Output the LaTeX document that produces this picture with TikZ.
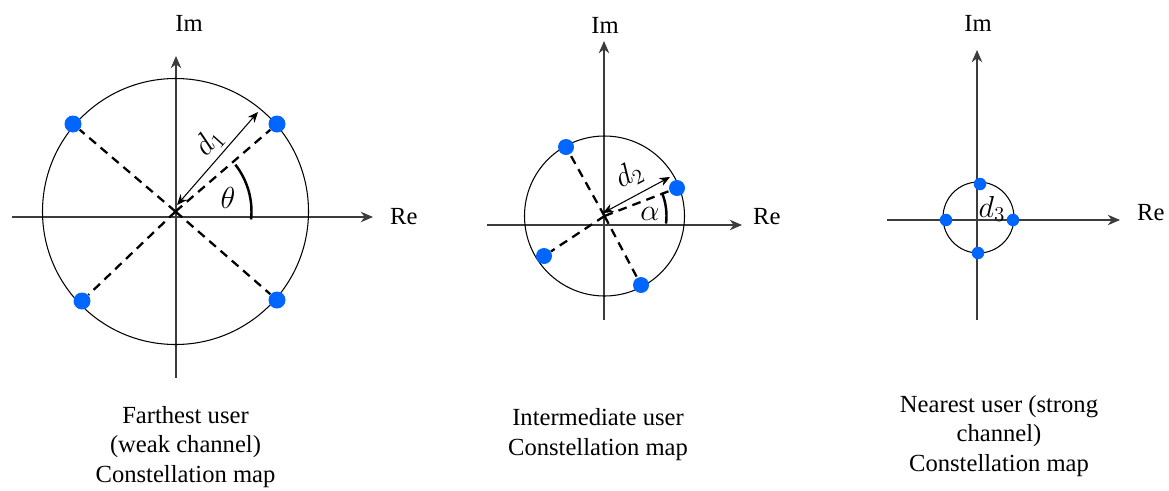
\documentclass[tikz,border=0pt]{standalone}
\usepackage{fontspec}
\setmainfont{Liberation Serif}
\usepackage{amsmath}
\usetikzlibrary{arrows.meta,calc}
\definecolor{symbol}{RGB}{0,102,255}
\definecolor{axisgray}{RGB}{60,60,60}

\begin{document}
\begin{tikzpicture}[
    lbl/.style={font=\fontsize{14}{17}\selectfont,inner sep=1pt},
    mlbl/.style={font=\fontsize{17}{20}\selectfont,inner sep=0.5pt},
    caption/.style={lbl,align=center},
    axis/.style={axisgray,line width=0.6pt,-{Stealth[length=7pt,width=6pt]}},
    ring/.style={black,line width=0.6pt},
    dot/.style={circle,fill=symbol,inner sep=0pt,minimum size=#1},
    dot/.default=0.34cm,
    guide/.style={black,line width=1.3pt,dash pattern=on 5pt off 3.5pt},
    dist/.style={black,line width=0.6pt,{Stealth[length=6pt,width=5pt]}-{Stealth[length=6pt,width=5pt]}},
    angmark/.style={black,line width=1.4pt}]
    \useasboundingbox (0,0) rectangle (23.38,9.8);
    % Farthest user
    \coordinate (c1) at (3.51,5.57);
    \coordinate (x1w) at (0.24,5.46);
    \coordinate (x1e) at (7.46,5.46);
    \coordinate (y1s) at (3.52,2.24);
    \coordinate (y1n) at (3.52,8.68);
    \draw[axis] (x1w)--(x1e);
    \draw[axis] (y1s)--(y1n);
    \draw[ring] (c1) circle (2.66);
    \node[dot] (a1) at (1.46,7.32) {};
    \node[dot] (b1) at (5.54,7.32) {};
    \node[dot] (e1) at (1.64,3.78) {};
    \node[dot] (f1) at (5.54,3.80) {};
    \draw[guide] (c1)--(a1) (c1)--(b1) (c1)--(e1) (c1)--(f1);
    \coordinate (d1s) at (3.54,5.70);
    \coordinate (d1e) at (5.16,7.56);
    \draw[dist] (d1s)--(d1e);
    \node[mlbl,rotate=48] (d1) at (4.18,6.96) {$d_1$};
    \coordinate (t1) at ($(c1)+(-6:1.52)$);
    \draw[angmark] (t1) arc (-6:38:1.52);
    \node[mlbl] (theta) at (4.56,5.84) {$\theta$};
    \node[lbl] (im1) at (3.78,9.34) {Im};
    \node[lbl,anchor=west] (re1) at (7.76,5.46) {Re};
    \node[caption] (cap1) at (3.71,0.86) {Farthest user\\(weak channel)\\Constellation map};
    % Intermediate user
    \coordinate (c2) at (12.09,5.48);
    \coordinate (x2w) at (9.74,5.30);
    \coordinate (x2e) at (14.84,5.30);
    \coordinate (y2s) at (12.08,3.40);
    \coordinate (y2n) at (12.08,8.98);
    \draw[axis] (x2w)--(x2e);
    \draw[axis] (y2s)--(y2n);
    \draw[ring] (c2) circle (1.6);
    \node[dot=0.32cm] (a2) at (11.32,6.86) {};
    \node[dot=0.32cm] (b2) at (13.54,6.04) {};
    \node[dot=0.32cm] (e2) at (10.88,4.68) {};
    \node[dot=0.32cm] (f2) at (12.82,4.10) {};
    \draw[guide] (c2)--(a2) (c2)--(b2) (c2)--(e2) (c2)--(f2);
    \coordinate (d2s) at (12.06,5.54);
    \coordinate (d2e) at (13.40,6.26);
    \draw[dist] (d2s)--(d2e);
    \node[mlbl,rotate=28] (d2) at (12.58,6.30) {$d_2$};
    \coordinate (t2) at ($(c2)+(-7:1.24)$);
    \draw[angmark] (t2) arc (-7:22:1.24);
    \node[mlbl] (alpha) at (13.0,5.52) {$\alpha$};
    \node[lbl] (im2) at (12.10,9.30) {Im};
    \node[lbl,anchor=west] (re2) at (15.02,5.46) {Re};
    \node[caption] (cap2) at (11.96,1.10) {Intermediate user\\Constellation map};
    % Nearest user
    \coordinate (c3) at (19.57,5.45);
    \coordinate (x3w) at (17.74,5.40);
    \coordinate (x3e) at (22.40,5.40);
    \coordinate (y3s) at (19.54,3.40);
    \coordinate (y3n) at (19.54,8.80);
    \draw[axis] (x3w)--(x3e);
    \draw[axis] (y3s)--(y3n);
    \draw[ring] (c3) circle (0.71);
    \node[dot=0.25cm] (a3) at (19.60,6.12) {};
    \node[dot=0.25cm] (b3) at (18.92,5.40) {};
    \node[dot=0.25cm] (e3) at (20.26,5.40) {};
    \node[dot=0.25cm] (f3) at (19.56,4.74) {};
    \node[mlbl] (d3) at (19.84,5.62) {$d_3$};
    \node[lbl] (im3) at (19.56,9.34) {Im};
    \node[lbl,anchor=west] (re3) at (22.70,5.54) {Re};
    \node[caption] (cap3) at (19.98,1.08) {Nearest user (strong\\channel)\\Constellation map};
\end{tikzpicture}
\end{document}
